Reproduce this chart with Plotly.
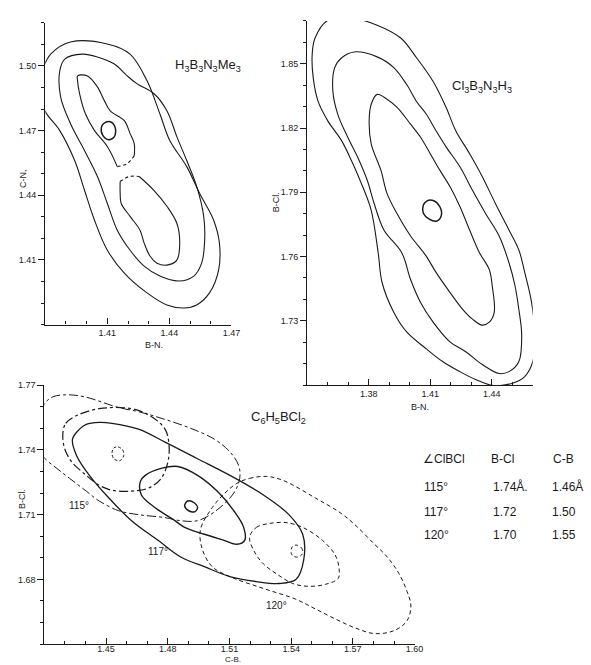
import plotly.graph_objects as go

# ---------------- Panel 1: H3B3N3Me3  (x: B-N, y: C-N) ----------------
p1_outer_x = [1.3922, 1.4100, 1.4210, 1.4292, 1.4354, 1.4402, 1.4484, 1.4546, 1.4614, 1.4642, 1.4638, 1.4594, 1.4532,
              1.4470, 1.4388, 1.4292, 1.4182, 1.4100, 1.4038, 1.3990, 1.3942, 1.3870, 1.3798, 1.3771, 1.3788, 1.3826]
p1_outer_y = [1.5111, 1.5102, 1.5055, 1.4931, 1.4778, 1.4654, 1.4533, 1.4409, 1.4284, 1.4178, 1.4053, 1.3947, 1.3891,
              1.3877, 1.3891, 1.3947, 1.4039, 1.4145, 1.4284, 1.4422, 1.4561, 1.4700, 1.4792, 1.4894, 1.4986, 1.5055]
p1_mid_x = [1.3980, 1.4052, 1.4134, 1.4196, 1.4244, 1.4326, 1.4388, 1.4436, 1.4484, 1.4532, 1.4566, 1.4570, 1.4556,
            1.4518, 1.4446, 1.4354, 1.4278, 1.4210, 1.4148, 1.4100, 1.4052, 1.3990, 1.3922, 1.3874, 1.3870, 1.3894]
p1_mid_y = [1.5055, 1.5042, 1.5009, 1.4954, 1.4917, 1.4871, 1.4792, 1.4672, 1.4561, 1.4441, 1.4302, 1.4178, 1.4085,
            1.4025, 1.4002, 1.4025, 1.4071, 1.4145, 1.4238, 1.4362, 1.4487, 1.4607, 1.4732, 1.4857, 1.4977, 1.5032]
p1_inner_up_x = [1.4148, 1.4100, 1.4038, 1.3994, 1.3966, 1.3956, 1.3956, 1.4004, 1.4052, 1.4086, 1.4114, 1.4182,
                 1.4210, 1.4230, 1.4230]
p1_inner_up_y = [1.4533, 1.4626, 1.4700, 1.4778, 1.4871, 1.4931, 1.4954, 1.4954, 1.4903, 1.4838, 1.4792, 1.4746,
                 1.4686, 1.4640, 1.4584]
p1_neck_up_x = [1.4230, 1.4196, 1.4148]
p1_neck_up_y = [1.4584, 1.4547, 1.4533]
p1_neck_lo_x = [1.4162, 1.4206, 1.4254]
p1_neck_lo_y = [1.4464, 1.4487, 1.4487]
p1_inner_lo_x = [1.4254, 1.4326, 1.4388, 1.4436, 1.4450, 1.4436, 1.4388, 1.4340, 1.4306, 1.4278, 1.4258, 1.4210,
                 1.4167, 1.4162, 1.4162]
p1_inner_lo_y = [1.4487, 1.4422, 1.4349, 1.4270, 1.4178, 1.4099, 1.4076, 1.4085, 1.4118, 1.4178, 1.4238, 1.4302,
                 1.4362, 1.4409, 1.4464]
p1_min_x = [1.4081, 1.4114, 1.4138, 1.4134, 1.4105, 1.4076, 1.4071]
p1_min_y = [1.4732, 1.4741, 1.4714, 1.4672, 1.4658, 1.4681, 1.4714]

# ---------------- Panel 2: Cl3B3N3H3  (x: B-N, y: B-Cl) ----------------
p2_outer_x = [1.3538, 1.3601, 1.3716, 1.3841, 1.3956, 1.4033, 1.4114, 1.4177, 1.4225, 1.4292, 1.4354, 1.4417, 1.4484,
              1.4532, 1.4561, 1.4594, 1.4610, 1.4600, 1.4561, 1.4498, 1.4402, 1.4321, 1.4244, 1.4162, 1.4081, 1.3985,
              1.3922, 1.3865, 1.3846, 1.3812, 1.3764, 1.3716, 1.3668, 1.3601, 1.3553, 1.3529, 1.3524]
p2_outer_y = [1.8620, 1.8703, 1.8713, 1.8680, 1.8620, 1.8528, 1.8417, 1.8297, 1.8186, 1.8080, 1.7973, 1.7849, 1.7724,
              1.7631, 1.7525, 1.7387, 1.7234, 1.7109, 1.7040, 1.7008, 1.6999, 1.7026, 1.7063, 1.7109, 1.7169, 1.7248,
              1.7340, 1.7479, 1.7618, 1.7816, 1.7941, 1.8047, 1.8140, 1.8232, 1.8324, 1.8435, 1.8542]
p2_mid_x = [1.3668, 1.3730, 1.3841, 1.3922, 1.3985, 1.4033, 1.4081, 1.4129, 1.4177, 1.4244, 1.4306, 1.4369, 1.4436,
            1.4484, 1.4513, 1.4532, 1.4546, 1.4532, 1.4484, 1.4436, 1.4354, 1.4273, 1.4196, 1.4114, 1.4052, 1.4004,
            1.3961, 1.3874, 1.3826, 1.3793, 1.3745, 1.3697, 1.3649, 1.3625, 1.3634]
p2_mid_y = [1.8528, 1.8555, 1.8532, 1.8482, 1.8403, 1.8324, 1.8264, 1.8186, 1.8112, 1.8020, 1.7909, 1.7802, 1.7696,
            1.7571, 1.7465, 1.7354, 1.7234, 1.7109, 1.7063, 1.7054, 1.7096, 1.7156, 1.7202, 1.7294, 1.7387, 1.7493,
            1.7618, 1.7724, 1.7849, 1.7955, 1.8066, 1.8158, 1.8264, 1.8371, 1.8482]
p2_inner_x = [1.3841, 1.3884, 1.3937, 1.4004, 1.4052, 1.4100, 1.4148, 1.4196, 1.4244, 1.4292, 1.4340, 1.4388, 1.4402,
              1.4412, 1.4388, 1.4354, 1.4306, 1.4258, 1.4196, 1.4129, 1.4076, 1.4004, 1.3937, 1.3889, 1.3860, 1.3812,
              1.3802, 1.3812]
p2_inner_y = [1.8357, 1.8338, 1.8297, 1.8218, 1.8158, 1.8080, 1.8001, 1.7927, 1.7835, 1.7724, 1.7618, 1.7539, 1.7465,
              1.7340, 1.7294, 1.7280, 1.7308, 1.7354, 1.7433, 1.7525, 1.7608, 1.7696, 1.7802, 1.7895, 1.8001, 1.8126,
              1.8232, 1.8311]
p2_min_x = [1.4081, 1.4114, 1.4148, 1.4153, 1.4129, 1.4095, 1.4066, 1.4066]
p2_min_y = [1.7858, 1.7862, 1.7830, 1.7788, 1.7765, 1.7775, 1.7802, 1.7839]

# ---------------- Panel 3: C6H5BCl2  (x: C-B, y: B-Cl) ----------------
p3_115_outer_x = [1.4170, 1.4165, 1.4180, 1.4204, 1.4242, 1.4309, 1.4395, 1.4562, 1.4658, 1.4787, 1.4911, 1.5026,
                  1.5102, 1.5145, 1.5150, 1.5121, 1.5040, 1.4945, 1.4863, 1.4787, 1.4658, 1.4562, 1.4467, 1.4404,
                  1.4323, 1.4261, 1.4204, 1.4180]
p3_115_outer_y = [1.7427, 1.7496, 1.7564, 1.7618, 1.7646, 1.7655, 1.7646, 1.7596, 1.7577, 1.7541, 1.7500, 1.7450,
                  1.7391, 1.7327, 1.7268, 1.7200, 1.7122, 1.7072, 1.7072, 1.7086, 1.7100, 1.7118, 1.7163, 1.7209,
                  1.7268, 1.7314, 1.7359, 1.7395]
p3_115_inner_x = [1.4290, 1.4304, 1.4357, 1.4467, 1.4624, 1.4720, 1.4787, 1.4806, 1.4801, 1.4768, 1.4706, 1.4624,
                  1.4529, 1.4467, 1.4404, 1.4333, 1.4299]
p3_115_inner_y = [1.7473, 1.7523, 1.7559, 1.7591, 1.7591, 1.7555, 1.7496, 1.7427, 1.7345, 1.7268, 1.7223, 1.7209,
                  1.7213, 1.7236, 1.7282, 1.7345, 1.7405]
p3_115_min_x = [1.4557, 1.4581, 1.4586, 1.4567, 1.4538, 1.4529, 1.4538]
p3_115_min_y = [1.7414, 1.7400, 1.7373, 1.7350, 1.7359, 1.7386, 1.7409]

p3_117_outer_x = [1.4337, 1.4371, 1.4404, 1.4467, 1.4529, 1.4658, 1.4787, 1.4945, 1.5102, 1.5265, 1.5389, 1.5456,
                  1.5461, 1.5423, 1.5341, 1.5231, 1.5102, 1.4978, 1.4863, 1.4753, 1.4624, 1.4514, 1.4419, 1.4357]
p3_117_outer_y = [1.7450, 1.7496, 1.7518, 1.7527, 1.7523, 1.7496, 1.7436, 1.7359, 1.7282, 1.7191, 1.7100, 1.7009,
                  1.6890, 1.6799, 1.6781, 1.6790, 1.6813, 1.6859, 1.6904, 1.6981, 1.7072, 1.7177, 1.7282, 1.7373]
p3_117_inner_x = [1.4667, 1.4691, 1.4768, 1.4849, 1.4945, 1.5040, 1.5121, 1.5169, 1.5174, 1.5136, 1.5074, 1.4978,
                  1.4882, 1.4835, 1.4739, 1.4672]
p3_117_inner_y = [1.7254, 1.7282, 1.7314, 1.7323, 1.7282, 1.7209, 1.7118, 1.7041, 1.6981, 1.6963, 1.6981, 1.7009,
                  1.7041, 1.7072, 1.7132, 1.7191]
p3_117_min_x = [1.4897, 1.4930, 1.4945, 1.4930, 1.4902, 1.4882]
p3_117_min_y = [1.7163, 1.7154, 1.7132, 1.7113, 1.7118, 1.7141]

p3_120_outer_x = [1.5136, 1.5198, 1.5279, 1.5360, 1.5518, 1.5638, 1.5709, 1.5805, 1.5867, 1.5924, 1.5963, 1.5982,
                  1.5963, 1.5901, 1.5805, 1.5709, 1.5614, 1.5518, 1.5423, 1.5265, 1.5102, 1.5016, 1.4968, 1.4959,
                  1.5016, 1.5078]
p3_120_outer_y = [1.7245, 1.7268, 1.7277, 1.7259, 1.7177, 1.7109, 1.7054, 1.6963, 1.6904, 1.6827, 1.6745, 1.6677,
                  1.6608, 1.6563, 1.6549, 1.6576, 1.6617, 1.6663, 1.6708, 1.6758, 1.6813, 1.6859, 1.6940, 1.7031,
                  1.7132, 1.7200]
p3_120_inner_x = [1.5198, 1.5231, 1.5293, 1.5375, 1.5456, 1.5552, 1.5614, 1.5633, 1.5628, 1.5566, 1.5485, 1.5408,
                  1.5327, 1.5265, 1.5222]
p3_120_inner_y = [1.6995, 1.7041, 1.7059, 1.7063, 1.7041, 1.6981, 1.6913, 1.6849, 1.6804, 1.6777, 1.6768, 1.6781,
                  1.6827, 1.6872, 1.6927]
p3_120_min_x = [1.5427, 1.5451, 1.5456, 1.5437, 1.5408, 1.5399, 1.5408]
p3_120_min_y = [1.6959, 1.6945, 1.6922, 1.6904, 1.6909, 1.6931, 1.6954]

# labels
angle_labels = ["115°", "117°", "120°"]
angle_label_x = [1.4371, 1.4753, 1.5327]
angle_label_y = [1.7141, 1.6927, 1.6677]

table_header = ["∠ClBCl", "B-Cl", "C-B"]
table_angle = ["115°", "117°", "120°"]
table_bcl = ["1.74Å.", "1.72", "1.70"]
table_cb = ["1.46Å", "1.50", "1.55"]

p1_xticks = [1.41, 1.44, 1.47]
p1_yticks = [1.41, 1.44, 1.47, 1.50]
p2_xticks = [1.38, 1.41, 1.44]
p2_yticks = [1.73, 1.76, 1.79, 1.82, 1.85]
p3_xticks = [1.45, 1.48, 1.51, 1.54, 1.57, 1.60]
p3_yticks = [1.68, 1.71, 1.74, 1.77]

W, H = 591, 665
FONT = "Liberation Sans"
INK = "#1a1a1a"

fig = go.Figure()


def add_curve(xs, ys, ax, dash="solid", close=True, width=1.1):
    xs = list(xs)
    ys = list(ys)
    if close:
        xs = xs + [xs[0]]
        ys = ys + [ys[0]]
    fig.add_trace(go.Scatter(
        x=xs, y=ys, mode="lines", xaxis="x" + ax, yaxis="y" + ax,
        line=dict(color=INK, width=width, dash=dash, shape="spline", smoothing=1.0),
        hoverinfo="skip", showlegend=False))


# Panel 1
add_curve(p1_outer_x, p1_outer_y, "")
add_curve(p1_mid_x, p1_mid_y, "")
add_curve(p1_inner_up_x, p1_inner_up_y, "", close=False)
add_curve(p1_inner_lo_x, p1_inner_lo_y, "", close=False)
add_curve(p1_neck_up_x, p1_neck_up_y, "", dash="dot", close=False)
add_curve(p1_neck_lo_x, p1_neck_lo_y, "", dash="dot", close=False)
add_curve(p1_min_x, p1_min_y, "", width=1.5)

# Panel 2
add_curve(p2_outer_x, p2_outer_y, "2")
add_curve(p2_mid_x, p2_mid_y, "2")
add_curve(p2_inner_x, p2_inner_y, "2")
add_curve(p2_min_x, p2_min_y, "2", width=1.5)

# Panel 3
add_curve(p3_115_outer_x, p3_115_outer_y, "3", dash="dashdot", width=1.0)
add_curve(p3_115_inner_x, p3_115_inner_y, "3", dash="dashdot", width=1.2)
add_curve(p3_115_min_x, p3_115_min_y, "3", dash="3px,2px", width=1.0)
add_curve(p3_117_outer_x, p3_117_outer_y, "3", width=1.3)
add_curve(p3_117_inner_x, p3_117_inner_y, "3", width=1.4)
add_curve(p3_117_min_x, p3_117_min_y, "3", width=1.5)
add_curve(p3_120_outer_x, p3_120_outer_y, "3", dash="4px,3px", width=1.0)
add_curve(p3_120_inner_x, p3_120_inner_y, "3", dash="4px,3px", width=1.0)
add_curve(p3_120_min_x, p3_120_min_y, "3", dash="dot", width=1.0)


def axis(domain, rng, ticks_dir, tickvals, minor_dtick, minor_start):
    return dict(
        domain=domain, range=rng, showline=True, linecolor=INK, linewidth=1.2,
        mirror=False, showgrid=False, zeroline=False,
        ticks=ticks_dir, ticklen=6, tickwidth=1, tickcolor=INK,
        tickmode="array", tickvals=tickvals, ticktext=["%.2f" % v for v in tickvals],
        tickfont=dict(family=FONT, size=9, color=INK),
        minor=dict(tickmode="linear", tick0=minor_start, dtick=minor_dtick,
                   ticks=ticks_dir, ticklen=3, tickwidth=1, tickcolor=INK, showgrid=False),
        fixedrange=True,
    )


def px_x(p):
    return p / W


def px_y(p):
    return 1 - p / H


fig.update_layout(
    width=W, height=H, margin=dict(l=0, r=0, t=0, b=0),
    paper_bgcolor="white", plot_bgcolor="white",
    xaxis=dict(axis([px_x(46), px_x(235)], [1.38, 1.47], "inside", p1_xticks, 0.01, 1.38), anchor="y"),
    yaxis=dict(axis([px_y(322), px_y(18)], [1.38, 1.52], "outside", p1_yticks, 0.01, 1.38), anchor="x"),
    xaxis2=dict(axis([px_x(312), px_x(541)], [1.35, 1.46], "inside", p2_xticks, 0.01, 1.35), anchor="y2"),
    yaxis2=dict(axis([px_y(383), px_y(16)], [1.70, 1.87], "outside", p2_yticks, 0.01, 1.70), anchor="x2"),
    xaxis3=dict(axis([px_x(45), px_x(421)], [1.42, 1.60], "inside", p3_xticks, 0.01, 1.42), anchor="y3",
                ticklabelstandoff=-4),
    yaxis3=dict(axis([px_y(644), px_y(383)], [1.65, 1.77], "outside", p3_yticks, 0.01, 1.65), anchor="x3"),
)

ann = []
lab_font = dict(family=FONT, size=13, color=INK)

# compound labels
ann.append(dict(text="H<sub>3</sub>B<sub>3</sub>N<sub>3</sub>Me<sub>3</sub>", x=1.4585, y=1.500,
                xref="x", yref="y", showarrow=False, font=lab_font))
ann.append(dict(text="Cl<sub>3</sub>B<sub>3</sub>N<sub>3</sub>H<sub>3</sub>", x=1.435, y=1.8394,
                xref="x2", yref="y2", showarrow=False, font=lab_font))
ann.append(dict(text="C<sub>6</sub>H<sub>5</sub>BCl<sub>2</sub>", x=1.5337, y=1.755,
                xref="x3", yref="y3", showarrow=False, font=lab_font))

for t, x, y in zip(angle_labels, angle_label_x, angle_label_y):
    ann.append(dict(text=t, x=x, y=y, xref="x3", yref="y3", showarrow=False,
                    font=dict(family=FONT, size=10, color=INK)))

# axis titles
titles = [("C-N,", 17, 163, -90, 9), ("B-N.", 145, 343, 0, 9), ("B-Cl.", 280, 187, -90, 9),
          ("B-N.", 438, 405, 0, 9), ("B-Cl.", 15, 510, -90, 9)]
for t, x, y, a, s in titles:
    ann.append(dict(text=t, x=px_x(x), y=px_y(y), xref="paper", yref="paper", showarrow=False,
                    textangle=a, font=dict(family=FONT, size=s, color=INK)))
ann.append(dict(text="C-B.", x=px_x(237), y=0, xref="paper", yref="paper", showarrow=False,
                yanchor="bottom", borderpad=0, font=dict(family=FONT, size=8, color=INK)))

# table
col_x = [429, 499, 558]
row_y = [495, 520, 543]
tab_font = dict(family=FONT, size=12, color=INK)
for t, x in zip(table_header, [428, 497, 560]):
    ann.append(dict(text=t, x=px_x(x), y=px_y(467), xref="paper", yref="paper", showarrow=False,
                    xanchor="left", font=tab_font))
for i in range(3):
    for t, x in zip([table_angle[i], table_bcl[i], table_cb[i]], col_x):
        ann.append(dict(text=t, x=px_x(x), y=px_y(row_y[i]), xref="paper", yref="paper",
                        showarrow=False, xanchor="left", font=tab_font))

fig.update_layout(annotations=ann)
fig.write_html("out.html")
